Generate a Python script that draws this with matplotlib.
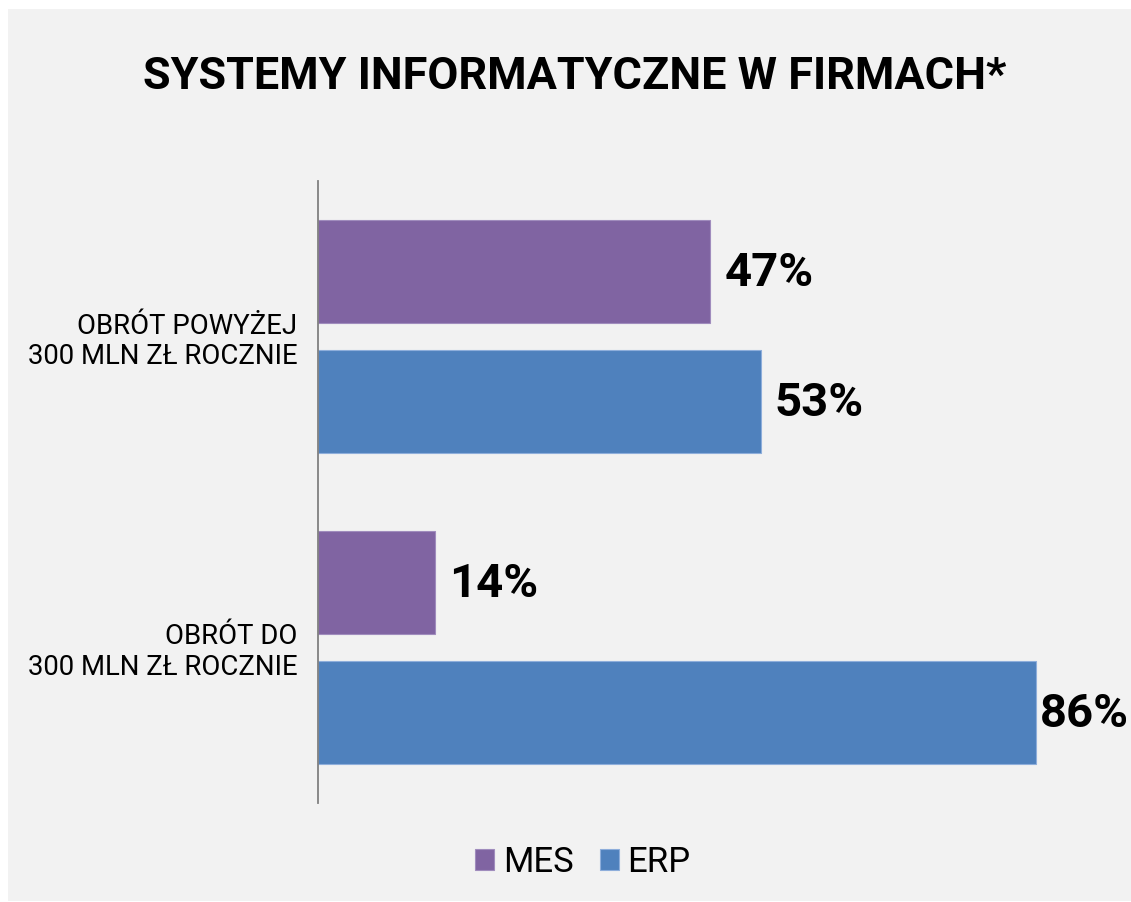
import matplotlib.pyplot as plt
from matplotlib.patches import Rectangle
import numpy as np

plt.rcParams['font.family'] = ['Roboto', 'DejaVu Sans']

categories = ['OBRÓT POWYŻEJ\n300 MLN ZŁ ROCZNIE', 'OBRÓT DO\n300 MLN ZŁ ROCZNIE']
mes = [47, 14]
erp = [53, 86]
series_names = ['MES', 'ERP']
colors = ['#8064A2', '#4F81BD']

W, H = 1131, 902
fig = plt.figure(figsize=(W / 100, H / 100), dpi=100, facecolor='white')
# szare tło z białym marginesem
fig.patches.append(Rectangle((8 / W, 1 / H), 1 - 8 / W, (H - 10) / H,
                             transform=fig.transFigure, facecolor='#f2f2f2',
                             edgecolor='none', zorder=-10))

ax = fig.add_axes([318 / W, 99 / H, 1 - 318 / W, 622 / H])
ax.set_facecolor('none')

y = np.arange(len(categories)) + 0.5
off = 0.208
h = 0.33
bars_mes = ax.barh(y - off, mes, height=h, color=colors[0], edgecolor='#a08cbd', linewidth=0.8, label=series_names[0])
bars_erp = ax.barh(y + off, erp, height=h, color=colors[1], edgecolor='#8eaedb', linewidth=0.8, label=series_names[1])

ax.set_xlim(0, (W - 318) / 8.35)
ax.set_ylim(2, 0)

labels = []
for bars in (bars_mes, bars_erp):
    for b in bars:
        t = ax.text(b.get_width() + 1.7, b.get_y() + b.get_height() / 2 + 0.005, f'{int(b.get_width())}%',
                    va='center', ha='left', fontsize=34, fontweight='bold', color='black', clip_on=False)
        labels.append(t)

ax.set_yticks(y)
ax.set_yticklabels(categories, fontsize=19.8, linespacing=1.15, ha='right')
ax.tick_params(axis='y', length=0, pad=15)
ax.set_xticks([])
for s in ['top', 'right', 'bottom']:
    ax.spines[s].set_visible(False)
ax.spines['left'].set_color('#808080')
ax.spines['left'].set_linewidth(1.3)

fig.text(575 / W, 1 - 77 / H, 'SYSTEMY INFORMATYCZNE W FIRMACH*', ha='center', va='center',
         fontsize=32.4, fontweight='bold', color='black')

fig.legend(handles=[bars_mes, bars_erp], labels=series_names, loc='center',
           bbox_to_anchor=(583 / W, 1 - 862 / H), ncol=2, frameon=False,
           fontsize=25, handlelength=0.55, handleheight=0.55, handletextpad=0.25,
           columnspacing=0.75)

# etykiety, które wychodzą poza obraz, przesuwamy do krawędzi (jak w Excelu)
fig.canvas.draw()
r = fig.canvas.get_renderer()
for t in labels:
    bb = t.get_window_extent(r)
    if bb.x1 > W - 2:
        dx = bb.x1 - (W - 2)
        x0, y0 = t.get_position()
        x_new = ax.transData.inverted().transform((ax.transData.transform((x0, y0))[0] - dx, 0))[0]
        t.set_x(x_new)

fig.savefig('out.png', dpi=100, facecolor='white')
